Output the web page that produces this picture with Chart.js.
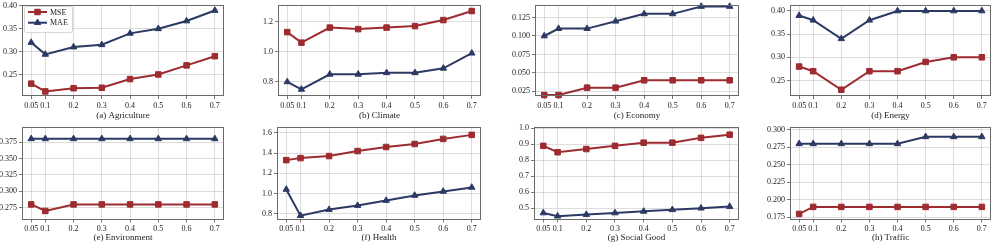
<!DOCTYPE html>
<html>
<head>
<meta charset="utf-8">
<script src="https://cdn.jsdelivr.net/npm/chart.js@4/dist/chart.umd.min.js"></script>
<style>
  html, body { margin: 0; padding: 0; background: #fff; overflow: hidden; }
  body { width: 997px; height: 244px; position: relative; }
  .panel { position: absolute; }
  .panel canvas { display: block; }
</style>
</head>
<body>
<script>
// ---------------- data ----------------
const seriesNames = ['MSE', 'MAE'];
const xValues = [0.05, 0.1, 0.2, 0.3, 0.4, 0.5, 0.6, 0.7];
const xTickLabels = ['0.05', '0.1', '0.2', '0.3', '0.4', '0.5', '0.6', '0.7'];
const panelTitles = ['(a) Agriculture', '(b) Climate', '(c) Economy', '(d) Energy',
                     '(e) Environment', '(f) Health', '(g) Social Good', '(h) Traffic'];

const agricultureMSE = [0.230, 0.213, 0.220, 0.221, 0.240, 0.250, 0.270, 0.290];
const agricultureMAE = [0.320, 0.294, 0.310, 0.315, 0.340, 0.350, 0.367, 0.390];
const agricultureYTicks = ['0.25', '0.30', '0.35', '0.40'];

const climateMSE = [1.13, 1.06, 1.16, 1.15, 1.16, 1.17, 1.21, 1.27];
const climateMAE = [0.80, 0.75, 0.85, 0.85, 0.86, 0.86, 0.89, 0.99];
const climateYTicks = ['0.8', '1.0', '1.2'];

const economyMSE = [0.02, 0.02, 0.03, 0.03, 0.04, 0.04, 0.04, 0.04];
const economyMAE = [0.10, 0.11, 0.11, 0.12, 0.13, 0.13, 0.14, 0.14];
const economyYTicks = ['0.025', '0.050', '0.075', '0.100', '0.125'];

const energyMSE = [0.28, 0.27, 0.23, 0.27, 0.27, 0.29, 0.30, 0.30];
const energyMAE = [0.39, 0.38, 0.34, 0.38, 0.40, 0.40, 0.40, 0.40];
const energyYTicks = ['0.25', '0.30', '0.35', '0.40'];

const environmentMSE = [0.28, 0.27, 0.28, 0.28, 0.28, 0.28, 0.28, 0.28];
const environmentMAE = [0.38, 0.38, 0.38, 0.38, 0.38, 0.38, 0.38, 0.38];
const environmentYTicks = ['0.275', '0.300', '0.325', '0.350', '0.375'];

const healthMSE = [1.33, 1.35, 1.37, 1.42, 1.46, 1.49, 1.54, 1.58];
const healthMAE = [1.04, 0.78, 0.84, 0.88, 0.93, 0.98, 1.02, 1.06];
const healthYTicks = ['0.8', '1.0', '1.2', '1.4', '1.6'];

const socialMSE = [0.89, 0.85, 0.87, 0.89, 0.91, 0.91, 0.94, 0.96];
const socialMAE = [0.47, 0.45, 0.46, 0.47, 0.48, 0.49, 0.50, 0.51];
const socialYTicks = ['0.5', '0.6', '0.7', '0.8', '0.9', '1.0'];

const trafficMSE = [0.18, 0.19, 0.19, 0.19, 0.19, 0.19, 0.19, 0.19];
const trafficMAE = [0.28, 0.28, 0.28, 0.28, 0.28, 0.29, 0.29, 0.29];
const trafficYTicks = ['0.175', '0.200', '0.225', '0.250', '0.275', '0.300'];

// ---------------- layout / style ----------------
const FONT = "'Liberation Serif', 'DejaVu Serif', serif";
const RED = '#9d2b30';
const NAVY = '#2c3964';
const GRID = '#cfcfcf';
const FRAME = '#6a6a6a';
const TEXT = '#222';
const Y_AXIS_W = 40;
const CANVAS_H = 121;
const ROWS = [{top: 0, T: 4, B: 96}, {top: 122, T: 124.5, B: 219.5}];

const panels = [
  {mse: agricultureMSE, mae: agricultureMAE, yt: agricultureYTicks, min: 0.203, max: 0.402, L: 22, R: 227, row: 0, legend: true},
  {mse: climateMSE, mae: climateMAE, yt: climateYTicks, min: 0.706, max: 1.31, L: 278, R: 484, row: 0},
  {mse: economyMSE, mae: economyMAE, yt: economyYTicks, min: 0.0187, max: 0.142, L: 535, R: 742, row: 0},
  {mse: energyMSE, mae: energyMAE, yt: energyYTicks, min: 0.2165, max: 0.4128, L: 790, R: 994, row: 0},
  {mse: environmentMSE, mae: environmentMAE, yt: environmentYTicks, min: 0.257, max: 0.398, L: 22, R: 227, row: 1},
  {mse: healthMSE, mae: healthMAE, yt: healthYTicks, min: 0.742, max: 1.658, L: 277, R: 484, row: 1},
  {mse: socialMSE, mae: socialMAE, yt: socialYTicks, min: 0.429, max: 1.008, L: 534, R: 742, row: 1},
  {mse: trafficMSE, mae: trafficMAE, yt: trafficYTicks, min: 0.172, max: 0.304, L: 790, R: 994, row: 1}
];

const framePlugin = {
  id: 'frame',
  afterDatasetsDraw(chart) {
    const a = chart.chartArea, ctx = chart.ctx;
    ctx.save();
    ctx.strokeStyle = FRAME;
    ctx.lineWidth = 1;
    ctx.strokeRect(Math.round(a.left) + 0.5, Math.round(a.top) + 0.5,
                   Math.round(a.right - a.left) - 1, Math.round(a.bottom - a.top) - 1);
    ctx.restore();
  }
};

function drawMarker(ctx, style, r, x, y, color) {
  ctx.fillStyle = color; ctx.strokeStyle = color; ctx.lineWidth = 1;
  if (Chart.helpers && Chart.helpers.drawPoint) {
    Chart.helpers.drawPoint(ctx, {pointStyle: style, radius: r, rotation: 0, borderWidth: 1}, x, y);
  }
}

const legendPlugin = {
  id: 'insideLegend',
  afterDatasetsDraw(chart, args, opts) {
    if (!opts || !opts.show) return;
    const a = chart.chartArea, ctx = chart.ctx;
    const bx = a.left + 2, by = a.top + 1, bw = 48, bh = 26;
    ctx.save();
    ctx.fillStyle = 'rgba(255,255,255,0.85)';
    ctx.strokeStyle = '#cccccc';
    ctx.lineWidth = 0.8;
    ctx.beginPath();
    if (ctx.roundRect) ctx.roundRect(bx + 0.5, by + 0.5, bw, bh, 2); else ctx.rect(bx + 0.5, by + 0.5, bw, bh);
    ctx.fill(); ctx.stroke();
    chart.data.datasets.forEach((ds, i) => {
      const y = by + 6 + i * 10.7;
      ctx.strokeStyle = ds.borderColor;
      ctx.lineWidth = 2;
      ctx.beginPath(); ctx.moveTo(bx + 4, y); ctx.lineTo(bx + 23, y); ctx.stroke();
      drawMarker(ctx, ds.pointStyle, ds.pointRadius, bx + 13.5, y, ds.borderColor);
      ctx.fillStyle = TEXT;
      ctx.font = '8px ' + FONT;
      ctx.textBaseline = 'middle';
      ctx.textAlign = 'left';
      ctx.fillText(ds.label, bx + 26, y + 0.5);
    });
    ctx.restore();
  }
};

panels.forEach((p, k) => {
  const row = ROWS[p.row];
  const div = document.createElement('div');
  div.className = 'panel';
  const W = p.R - p.L + Y_AXIS_W + 2;
  div.style.left = (p.L - Y_AXIS_W) + 'px';
  div.style.top = row.top + 'px';
  div.style.width = W + 'px';
  div.style.height = CANVAS_H + 'px';
  const cv = document.createElement('canvas');
  cv.width = W; cv.height = CANVAS_H;
  cv.style.width = W + 'px'; cv.style.height = CANVAS_H + 'px';
  div.appendChild(cv);
  document.body.appendChild(div);

  const yValues = p.yt.map(Number);
  const xH = CANVAS_H - (row.B - row.top);

  const gridOpts = {
    color: GRID, lineWidth: 0.7, borderDash: [2, 2],
    drawTicks: true, tickLength: 3, tickColor: '#555', tickWidth: 0.8, tickBorderDash: []
  };

  new Chart(cv, {
    type: 'line',
    data: {
      datasets: [
        {label: seriesNames[0], data: xValues.map((x, i) => ({x: x, y: p.mse[i]})),
         borderColor: RED, backgroundColor: RED, pointBackgroundColor: RED, pointBorderColor: RED,
         pointStyle: 'rect', pointRadius: 3.9, pointBorderWidth: 1, borderWidth: 2, tension: 0, clip: 3},
        {label: seriesNames[1], data: xValues.map((x, i) => ({x: x, y: p.mae[i]})),
         borderColor: NAVY, backgroundColor: NAVY, pointBackgroundColor: NAVY, pointBorderColor: NAVY,
         pointStyle: 'triangle', pointRadius: 3.7, pointBorderWidth: 1, borderWidth: 2, tension: 0, clip: 3}
      ]
    },
    options: {
      responsive: false, animation: false, devicePixelRatio: 1,
      events: [],
      layout: {padding: {top: row.T - row.top, right: 2, left: 0, bottom: 0}},
      plugins: {legend: {display: false}, tooltip: {enabled: false}, insideLegend: {show: !!p.legend}},
      scales: {
        x: {
          type: 'linear', min: 0.0175, max: 0.7325,
          afterBuildTicks: s => { s.ticks = xValues.map(v => ({value: v})); },
          afterFit: s => { s.height = xH; s.paddingLeft = 0; s.paddingRight = 0; s.paddingTop = 0; s.paddingBottom = 0; },
          ticks: {callback: (v, i) => xTickLabels[i], font: {family: FONT, size: 8}, color: TEXT,
                  padding: 2, maxRotation: 0, autoSkip: false},
          grid: gridOpts,
          border: {display: false},
          title: {display: true, text: panelTitles[k], font: {family: FONT, size: 9}, color: TEXT, padding: 0}
        },
        y: {
          type: 'linear', min: p.min, max: p.max,
          afterBuildTicks: s => { s.ticks = yValues.map(v => ({value: v})); },
          afterFit: s => { s.width = Y_AXIS_W; s.paddingTop = 0; s.paddingBottom = 0; s.paddingLeft = 0; s.paddingRight = 0; },
          ticks: {callback: (v, i) => p.yt[i], font: {family: FONT, size: 8}, color: TEXT, padding: 2, autoSkip: false},
          grid: gridOpts,
          border: {display: false}
        }
      }
    },
    plugins: [framePlugin, legendPlugin]
  });
});
</script>
</body>
</html>
